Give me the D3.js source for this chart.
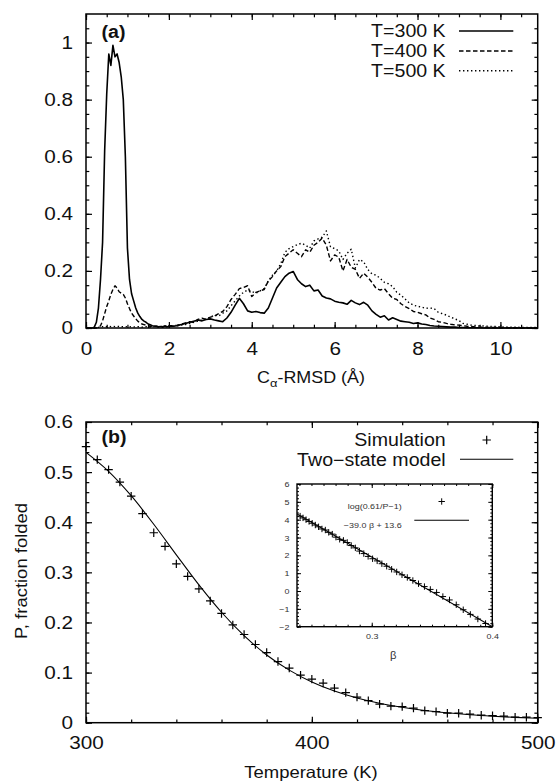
<!DOCTYPE html>
<html><head><meta charset="utf-8">
<script src="https://cdn.jsdelivr.net/npm/d3@7"></script>
<style>
html,body{margin:0;padding:0;background:#fff;}
svg{display:block;}
text{font-family:"Liberation Sans",Arial,Helvetica,sans-serif;fill:#111;}
</style></head><body>
<svg id="chart" width="558" height="781"></svg>
<script>
// ---------- Panel (a) data ----------
const rmsd = [
 0,0.05,0.1,0.15,0.2,0.25,0.3,0.35,0.4,0.45,0.5,0.55,0.6,0.65,0.7,0.75,0.8,0.85,0.9,0.95,
 1,1.05,1.1,1.15,1.2,1.25,1.3,1.35,1.4,1.45,1.5,1.55,1.6,1.65,1.7,1.75,1.8,1.85,1.9,1.95,2,
 2.1,2.2,2.3,2.4,2.5,2.6,2.7,2.8,2.9,3.0,
 3.1,3.2,3.3,3.4,3.5,3.6,3.7,3.8,3.9,4.0,
 4.1,4.2,4.3,4.4,4.5,4.6,4.7,4.8,4.9,5.0,
 5.1,5.2,5.3,5.4,5.5,5.6,5.7,5.8,5.9,6.0,
 6.1,6.2,6.3,6.4,6.5,6.6,6.7,6.8,6.9,7.0,
 7.1,7.2,7.3,7.4,7.5,7.6,7.7,7.8,7.9,8.0,
 8.1,8.2,8.3,8.4,8.5,8.6,8.7,8.8,8.9,9.0,
 9.1,9.2,9.3,9.4,9.5,9.6,9.7,9.8,9.9,10.0,
 10.1,10.2,10.3,10.4,10.5,10.6,10.7,10.8,10.9
];
const pT300 = [
 0,0,0,0,0.003,0.02,0.07,0.17,0.30,0.62,0.82,0.96,0.92,0.99,0.95,0.96,0.93,0.88,0.80,0.60,
 0.28,0.17,0.12,0.095,0.07,0.052,0.04,0.03,0.024,0.02,0.014,0.011,0.008,0.007,0.006,0.004,0.005,0.003,0.006,0.004,0.005,
 0.006,0.008,0.012,0.016,0.020,0.024,0.028,0.025,0.030,0.032,
 0.028,0.025,0.022,0.035,0.055,0.080,0.104,0.085,0.060,0.055,
 0.058,0.054,0.052,0.070,0.105,0.140,0.160,0.180,0.192,0.198,
 0.170,0.155,0.145,0.150,0.130,0.133,0.112,0.105,0.102,0.094,
 0.090,0.088,0.083,0.097,0.088,0.082,0.090,0.080,0.060,0.048,
 0.038,0.043,0.028,0.036,0.030,0.024,0.022,0.020,0.016,0.018,
 0.014,0.012,0.009,0.007,0.006,0.005,0.004,0.003,0.003,0.002,
 0.002,0.001,0.001,0.001,0.001,0,0,0,0,0,
 0,0,0,0,0,0,0,0,0
];
const pT400 = [
 0,0,0,0,0,0,0.002,0.008,0.025,0.05,0.075,0.095,0.118,0.135,0.148,0.14,0.127,0.122,0.118,0.105,
 0.085,0.068,0.052,0.042,0.032,0.024,0.018,0.014,0.012,0.01,0.008,0.006,0.007,0.005,0.006,0.004,0.006,0.005,0.007,0.006,0.008,
 0.008,0.010,0.013,0.018,0.022,0.020,0.030,0.034,0.030,0.038,
 0.042,0.050,0.058,0.075,0.100,0.118,0.138,0.142,0.148,0.110,
 0.125,0.130,0.135,0.165,0.180,0.200,0.215,0.250,0.262,0.274,
 0.262,0.250,0.274,0.265,0.290,0.300,0.315,0.290,0.235,0.256,
 0.248,0.200,0.240,0.213,0.205,0.174,0.192,0.178,0.160,0.139,
 0.133,0.138,0.120,0.104,0.100,0.085,0.075,0.068,0.058,0.055,
 0.050,0.046,0.035,0.030,0.022,0.020,0.016,0.013,0.011,0.010,
 0.008,0.006,0.005,0.004,0.003,0.003,0.002,0.002,0.002,0.001,
 0.001,0.001,0.001,0.001,0,0,0,0,0
];
const pT500 = [
 0,0,0,0,0,0,0.002,0.004,0.005,0.004,0.005,0.006,0.005,0.006,0.005,0.006,0.005,0.004,0.005,0.004,
 0.005,0.004,0.005,0.004,0.004,0.005,0.004,0.003,0.004,0.005,0.004,0.003,0.004,0.005,0.004,0.005,0.006,0.005,0.007,0.006,0.007,
 0.006,0.008,0.010,0.012,0.016,0.020,0.024,0.028,0.032,0.038,
 0.045,0.042,0.052,0.060,0.078,0.095,0.112,0.125,0.133,0.128,
 0.122,0.130,0.138,0.165,0.185,0.200,0.225,0.265,0.278,0.285,
 0.292,0.297,0.290,0.280,0.305,0.312,0.318,0.340,0.284,0.278,
 0.270,0.240,0.262,0.276,0.210,0.240,0.232,0.205,0.190,0.185,
 0.174,0.160,0.155,0.145,0.125,0.115,0.102,0.088,0.080,0.076,
 0.073,0.069,0.070,0.068,0.055,0.050,0.045,0.038,0.032,0.026,
 0.016,0.013,0.010,0.009,0.008,0.007,0.006,0.005,0.005,0.004,
 0.004,0.003,0.003,0.003,0.002,0.002,0.002,0.002,0.002
];
const seriesA = ["T=300 K","T=400 K","T=500 K"];
const xTicksA = [0,2,4,6,8,10];
const yTicksA = [0,0.2,0.4,0.6,0.8,1];

// ---------- Panel (b) data ----------
const temps = [300,305,310,315,320,325,330,335,340,345,350,355,360,365,370,375,380,385,390,395,
 400,405,410,415,420,425,430,435,440,445,450,455,460,465,470,475,480,485,490,495,500];
const pSim = [0.551,0.525,0.505,0.480,0.452,0.417,0.379,0.352,0.317,0.292,0.267,0.243,0.218,0.195,0.176,0.156,0.140,0.122,0.109,0.095,
 0.087,0.079,0.069,0.060,0.051,0.044,0.037,0.033,0.032,0.029,0.024,0.022,0.019,0.019,0.017,0.015,0.014,0.013,0.011,0.011,0.010];
const modelT = [300,310,320,330,340,350,360,370,380,390,400,410,420,430,440,450,460,470,480,490,500];
const modelP = [0.5395,0.5016,0.4529,0.3960,0.3350,0.2750,0.2204,0.1736,0.1352,0.1049,0.0812,0.0631,0.0493,0.0387,0.0307,0.0244,0.0197,0.0159,0.0130,0.0107,0.0089];
const seriesB = ["Simulation","Two\u2212state model"];
const xTicksB = [300,400,500];
const yTicksB = [0,0.1,0.2,0.3,0.4,0.5,0.6];

// ---------- Inset data ----------
const betaSim = [0.4009,0.3944,0.3880,0.3818,0.3759,0.3701,0.3645,0.3590,0.3538,0.3486,0.3437,0.3388,0.3341,0.3295,0.3251,0.3207,0.3165,0.3124,0.3084,0.3045,
 0.3007,0.2970,0.2934,0.2898,0.2864,0.2830,0.2797,0.2765,0.2734,0.2703,0.2673,0.2643,0.2615,0.2587,0.2559,0.2532,0.2506,0.2480,0.2455,0.2430,0.2406];
const logSim = [-2.23,-1.82,-1.57,-1.31,-1.05,-0.77,-0.50,-0.31,-0.08,0.09,0.25,0.41,0.59,0.76,0.91,1.07,1.22,1.39,1.53,1.69,
 1.81,1.94,2.10,2.24,2.42,2.55,2.72,2.84,2.90,3.02,3.19,3.29,3.42,3.48,3.60,3.70,3.80,3.90,4.00,4.10,4.20];
const fitBeta = [0.238,0.4];
const fitVal = [4.32,-2.0];
const seriesInset = ["log(0.61/P\u22121)","\u221239.0 \u03b2 + 13.6"];
const xTicksIn = [0.3,0.4];
const yTicksIn = [-2,-1,0,1,2,3,4,5,6];

// ---------- drawing ----------
const SX = 1.12;
const svg = d3.select("#chart");
svg.append("rect").attr("width",558).attr("height",781).attr("fill","#fff");

function stretch(sel){
  sel.each(function(){
    const t = d3.select(this);
    const x = +t.attr("x") || 0, y = +t.attr("y") || 0;
    const extra = t.attr("data-rot") ? ` rotate(${t.attr("data-rot")})` : "";
    t.attr("x",0).attr("y",0).attr("transform",`translate(${x},${y})${extra} scale(${SX},1)`);
  });
}

function drawAxes(g, x, y, o){
  const [x0,x1] = x.range(), [y0,y1] = y.range();
  const mk = (axis, tr, vals, size, fmt, pad) => {
    const a = g.append("g").attr("transform", tr)
      .call(axis.tickValues(vals).tickSize(-size).tickPadding(pad||3).tickFormat(fmt||(()=>"")));
    a.select(".domain").remove();
    a.selectAll("line").attr("stroke","#000").attr("stroke-width",o.tw);
    a.attr("font-family",null).attr("font-size",null);
    return a;
  };
  // minor
  mk(d3.axisBottom(x), `translate(0,${y0})`, o.xMinor, o.minor);
  mk(d3.axisTop(x), `translate(0,${y1})`, o.xMinor, o.minor);
  mk(d3.axisLeft(y), `translate(${x0},0)`, o.yMinor, o.minor);
  mk(d3.axisRight(y), `translate(${x1},0)`, o.yMinor, o.minor);
  // major
  const bx = mk(d3.axisBottom(x), `translate(0,${y0})`, o.xMajor, o.major, o.xFmt, o.xPad);
  mk(d3.axisTop(x), `translate(0,${y1})`, o.xMajor, o.major);
  const ly = mk(d3.axisLeft(y), `translate(${x0},0)`, o.yMajor, o.major, o.yFmt, o.yPad);
  mk(d3.axisRight(y), `translate(${x1},0)`, o.yMajor, o.major);
  [bx, ly].forEach(a => {
    a.selectAll("text").style("font-size", o.fs + "px").style("fill", o.tc || "#111");
    stretch(a.selectAll("text"));
  });
  g.append("rect").attr("x",x0).attr("y",y1).attr("width",x1-x0).attr("height",y0-y1)
    .attr("fill","none").attr("stroke","#000").attr("stroke-width",o.fw);
}

const fmtG = d => String(+d.toFixed(3));

// ===== Panel (a) =====
const xA = d3.scaleLinear().domain([0,10.9]).range([86,537.7]);
const yA = d3.scaleLinear().domain([0,1.1]).range([328,14]);
const gA = svg.append("g");
const idx = d3.range(rmsd.length);
const styles = [
  {dash:null, w:1.6},
  {dash:"4.5,2.5", w:1.4},
  {dash:"1.4,2.6", w:1.4}
];
[pT300,pT400,pT500].forEach((arr,k)=>{
  const line = d3.line().x(i=>xA(rmsd[i])).y(i=>yA(arr[i]));
  gA.append("path").attr("d", line(idx)).attr("fill","none").attr("stroke","#000")
    .attr("stroke-width", styles[k].w).attr("stroke-dasharray", styles[k].dash)
    .attr("stroke-linejoin","round");
});
drawAxes(gA, xA, yA, {
  xMajor:xTicksA, xMinor:d3.range(0,10.9,0.5), yMajor:yTicksA, yMinor:d3.range(0,1.1,0.05),
  major:6, minor:3.3, tw:1.2, fw:1.5, fs:18.5, xPad:13.5, yPad:13, xFmt:fmtG, yFmt:fmtG
});
// legend (a)
const legYA = [31,51,70.7];
seriesA.forEach((s,k)=>{
  gA.append("text").attr("x",445.7).attr("y",legYA[k]+6.3).attr("text-anchor","end")
    .style("font-size","17.5px").text(s).call(stretch);
  gA.append("line").attr("x1",459).attr("x2",513.3).attr("y1",legYA[k]).attr("y2",legYA[k])
    .attr("stroke","#000").attr("stroke-width",styles[k].w).attr("stroke-dasharray",styles[k].dash);
});
gA.append("text").attr("x",101.5).attr("y",38).style("font-size","17.5px").style("font-weight","bold")
  .text("(a)").call(stretch);
// x label (a)
const xl = svg.append("text").attr("x",311).attr("y",383).attr("text-anchor","middle").style("font-size","16px");
xl.append("tspan").text("C");
xl.append("tspan").attr("dy",4).style("font-size","11.5px").text("\u03b1");
xl.append("tspan").attr("dy",-4).text("-RMSD (\u00c5)");
stretch(xl);

// ===== Panel (b) =====
const xB = d3.scaleLinear().domain([300,500]).range([86,537.7]);
const yB = d3.scaleLinear().domain([0,0.6]).range([722.7,422]);
const gB = svg.append("g");
gB.append("path").datum(d3.range(modelT.length))
  .attr("d", d3.line().x(i=>xB(modelT[i])).y(i=>yB(modelP[i])).curve(d3.curveMonotoneX))
  .attr("fill","none").attr("stroke","#000").attr("stroke-width",1.1);
const plus = s => `M${-s},0H${s}M0,${-s}V${s}`;
gB.selectAll("path.sim").data(temps).join("path").attr("class","sim")
  .attr("transform",(d,i)=>`translate(${xB(d)},${yB(pSim[i])})`)
  .attr("d", plus(4.2)).attr("stroke","#000").attr("stroke-width",1.2).attr("fill","none");
drawAxes(gB, xB, yB, {
  xMajor:xTicksB, xMinor:d3.range(300,501,20), yMajor:yTicksB, yMinor:d3.range(0,0.6,0.02),
  major:6, minor:3.3, tw:1.2, fw:1.5, fs:18.5, xPad:13, yPad:13, xFmt:fmtG, yFmt:fmtG
});
// legend (b)
gB.append("text").attr("x",445.7).attr("y",446).attr("text-anchor","end").style("font-size","17.5px")
  .text(seriesB[0]).call(stretch);
gB.append("path").attr("transform","translate(486.7,440)").attr("d",plus(4.2))
  .attr("stroke","#000").attr("stroke-width",1.2);
gB.append("text").attr("x",445.7).attr("y",466).attr("text-anchor","end").style("font-size","17.5px")
  .text(seriesB[1]).call(stretch);
gB.append("line").attr("x1",460).attr("x2",513.3).attr("y1",459.3).attr("y2",459.3)
  .attr("stroke","#000").attr("stroke-width",1.1);
gB.append("text").attr("x",101.5).attr("y",443).style("font-size","17.5px").style("font-weight","bold")
  .text("(b)").call(stretch);
svg.append("text").attr("x",311).attr("y",778).attr("text-anchor","middle").style("font-size","16.5px")
  .text("Temperature (K)").call(stretch);
svg.append("text").attr("x",26.7).attr("y",571).attr("data-rot",-90).attr("text-anchor","middle")
  .style("font-size","16.5px").text("P, fraction folded").call(stretch);

// ===== Inset =====
const xI = d3.scaleLinear().domain([0.238,0.4]).range([297,492.3]);
const yI = d3.scaleLinear().domain([-2,6]).range([626.7,484]);
const gI = svg.append("g");
gI.append("rect").attr("x",297).attr("y",484).attr("width",492.3-297).attr("height",626.7-484).attr("fill","#fff");
svg.append("defs").append("clipPath").attr("id","clipI").append("rect")
  .attr("x",297).attr("y",484).attr("width",492.3-297).attr("height",626.7-484);
const gIc = gI.append("g").attr("clip-path","url(#clipI)");
gIc.append("path").datum(d3.range(fitBeta.length))
  .attr("d", d3.line().x(i=>xI(fitBeta[i])).y(i=>yI(fitVal[i])))
  .attr("fill","none").attr("stroke","#000").attr("stroke-width",1.1);
gIc.selectAll("path.pt").data(betaSim).join("path").attr("class","pt")
  .attr("transform",(d,i)=>`translate(${xI(d)},${yI(logSim[i])})`)
  .attr("d", plus(3.2)).attr("stroke","#000").attr("stroke-width",1);
drawAxes(gI, xI, yI, {
  xMajor:xTicksIn, xMinor:d3.range(0.24,0.4001,0.01), yMajor:yTicksIn, yMinor:d3.range(-2,6,0.2),
  major:4, minor:2, tw:1, fw:1.4, fs:8, xPad:7, yPad:7.5, xFmt:d3.format(".1f"), yFmt:d3.format("d"), tc:"#333"
});
// inset legend
gI.append("text").attr("x",401.7).attr("y",509).attr("text-anchor","end").style("font-size","8px")
  .style("fill","#333").text(seriesInset[0]).call(stretch);
gI.append("path").attr("transform","translate(441.7,501.5)").attr("d",plus(3.2))
  .attr("stroke","#000").attr("stroke-width",1);
gI.append("text").attr("x",401.7).attr("y",528).attr("text-anchor","end").style("font-size","8px")
  .style("fill","#333").text(seriesInset[1]).call(stretch);
gI.append("line").attr("x1",414.3).attr("x2",469).attr("y1",520.3).attr("y2",520.3)
  .attr("stroke","#000").attr("stroke-width",1.1);
gI.append("text").attr("x",393.3).attr("y",658.5).attr("text-anchor","middle").style("font-size","10px")
  .style("fill","#333").text("\u03b2").call(stretch);
</script>
</body></html>
